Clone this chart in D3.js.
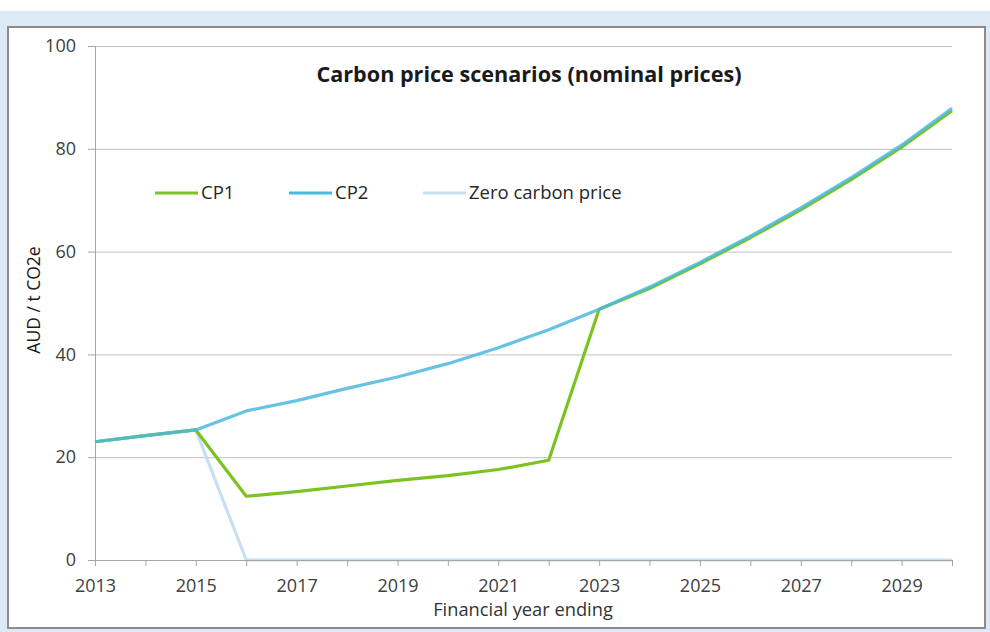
<!DOCTYPE html>
<html lang="en">
<head>
  <meta charset="UTF-8" />
  <title>Carbon price scenarios</title>
  <script src="https://d3js.org/d3.v7.min.js"></script>
  <style>
    body { margin: 0; background: #fff; font-family: "Open Sans", sans-serif; }
    .axis text { font-size: 18px; fill: #404040; font-family: "Open Sans", sans-serif; }
    .axis path, .axis line { stroke: #a6a6a6; }
    .grid line { stroke: #bfbfbf; }
    .grid path { display: none; }
    .series { fill: none; stroke-width: 3.2; stroke-linejoin: round; }
  </style>
</head>
<body>
  <svg width="990" height="632"></svg>

  <script>
    const years = d3.range(2013, 2031);
    const cp1 = [23, 24.2, 25.3, 12.4, 13.3, 14.4, 15.5, 16.4, 17.6, 19.4, 48.8, 52.8, 57.6, 62.7, 68.1, 74.0, 80.3, 87.4];
    const cp2 = [23, 24.2, 25.3, 29.0, 31.0, 33.4, 35.6, 38.2, 41.3, 44.8, 48.8, 53.1, 57.9, 63.0, 68.5, 74.4, 80.7, 87.9];
    const zero = [23, 24.2, 25.3, 0, 0, 0, 0, 0, 0, 0, 0, 0, 0, 0, 0, 0, 0, 0];
    const yTicks = [0, 20, 40, 60, 80, 100];

    const svg = d3.select("svg");

    // frame like the source document
    svg.append("rect").attr("x", 0).attr("y", 11).attr("width", 990).attr("height", 621).attr("fill", "#dde9f5");
    svg.append("rect").attr("x", 8).attr("y", 27).attr("width", 977).attr("height", 601)
      .attr("fill", "#fff").attr("stroke", "#8c8c8c").attr("stroke-width", 2);

    const x = d3.scaleLinear().domain([2013, 2030]).range([95, 952]);
    const y = d3.scaleLinear().domain([0, 100]).range([560, 46]);

    // gridlines
    svg.append("g").attr("class", "grid")
      .attr("transform", "translate(95,0)")
      .call(d3.axisLeft(y).tickValues(yTicks.slice(1)).tickSize(-857).tickFormat(""));

    // y axis
    svg.append("g").attr("class", "axis")
      .attr("transform", "translate(95,0)")
      .call(d3.axisLeft(y).tickValues(yTicks).tickSize(7).tickPadding(12).tickSizeOuter(0));

    const line = vals => d3.line().x((d, i) => x(years[i])).y(d => y(d))(vals);

    const series = [
      { name: "Zero carbon price", vals: zero, color: "#c6e0f1" },
      { name: "CP1", vals: cp1, color: "#7cc322" },
      { name: "CP2", vals: cp2, color: "#4bb9de" }
    ];

    svg.append("g").selectAll("path")
      .data(series)
      .join("path")
        .attr("class", "series")
        .attr("d", d => line(d.vals))
        .attr("stroke", d => d.color)
        .attr("stroke-opacity", d => d.name === "CP2" ? 0.85 : 1);

    // x axis
    svg.append("g").attr("class", "axis")
      .attr("transform", "translate(0,560)")
      .call(d3.axisBottom(x).tickValues(years).tickSize(6).tickPadding(13).tickSizeOuter(0)
        .tickFormat(d => d % 2 === 1 ? String(d) : ""));

    // title
    svg.append("text")
      .attr("x", 529).attr("y", 82)
      .attr("text-anchor", "middle")
      .style("font-size", "21.6px").style("font-weight", "bold").style("fill", "#1a1a1a")
      .text("Carbon price scenarios (nominal prices)");

    // axis titles
    svg.append("text")
      .attr("transform", "translate(40,300) rotate(-90)")
      .attr("text-anchor", "middle")
      .style("font-size", "17.5px").style("fill", "#1a1a1a")
      .text("AUD / t CO2e");

    svg.append("text")
      .attr("x", 523).attr("y", 616)
      .attr("text-anchor", "middle")
      .style("font-size", "18.3px").style("fill", "#333")
      .text("Financial year ending");

    // legend
    const legend = [
      { name: "CP1", color: "#7cc322", x: 155 },
      { name: "CP2", color: "#4bb9de", x: 289 },
      { name: "Zero carbon price", color: "#c6e0f1", x: 423 }
    ];
    const lg = svg.append("g").selectAll("g").data(legend).join("g")
      .attr("transform", d => `translate(${d.x},193)`);
    lg.append("line").attr("x1", 0).attr("x2", 43)
      .attr("stroke", d => d.color).attr("stroke-width", 3.2);
    lg.append("text").attr("x", 46).attr("dy", "0.35em")
      .style("font-size", "18.5px").style("fill", "#262626")
      .text(d => d.name);
  </script>
</body>
</html>
